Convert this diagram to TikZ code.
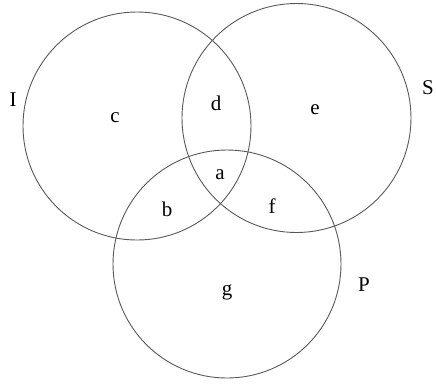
\documentclass[tikz,border=0pt]{standalone}
\usepackage{fontspec}
\setmainfont{Liberation Serif}
\begin{document}
\begin{tikzpicture}[x=1pt,y=-1pt,
  setc/.style={draw=black!65,line width=0.9pt},
  lab/.style={font=\fontsize{21}{23}\selectfont,inner sep=0pt}]
\useasboundingbox (0,0) rectangle (436,384);
\draw[setc] (137,126) circle (114);
\draw[setc] (296.5,118) circle (114.5);
\draw[setc] (227,264) circle (114);
\node[lab] (I) at (13,100) {I};
\node[lab] (S) at (428,88) {S};
\node[lab] (P) at (364,285) {P};
\node[lab] (c) at (115,118) {c};
\node[lab] (d) at (216,103) {d};
\node[lab] (e) at (315,110) {e};
\node[lab] (a) at (220,175) {a};
\node[lab] (b) at (167,209) {b};
\node[lab] (f) at (272,206) {f};
\node[lab] (g) at (227,292) {g};
\end{tikzpicture}
\end{document}
